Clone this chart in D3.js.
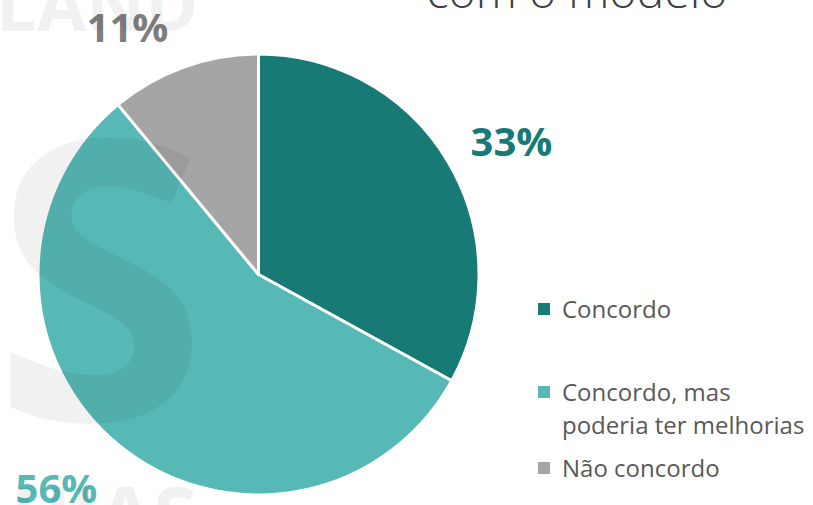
<!DOCTYPE html>
<html>
<head>
<meta charset="utf-8">
<script src="https://cdn.jsdelivr.net/npm/d3@7"></script>
<style>
  html, body { margin: 0; padding: 0; background: #fff; }
  svg { display: block; }
</style>
</head>
<body>
<svg id="chart" width="813" height="505"></svg>
<script>
// ---- data ----
const categories = ["Concordo", "Concordo, mas poderia ter melhorias", "Não concordo"];
const legendLines = [["Concordo"], ["Concordo, mas", "poderia ter melhorias"], ["Não concordo"]];
const values = [33, 56, 11];
const labels = ["33%", "56%", "11%"];
const colors = ["#177A74", "#56B9B5", "#A5A5A5"];
const labelColors = ["#177A74", "#56B9B5", "#7F7F7F"];
const titleText = "com o modelo";

// ---- layout ----
const W = 813, H = 505;
const cx = 258.5, cy = 274.5, R = 220.5;
const labelNudge = [{r: 286, da: 2.8}, {r: 294, da: 3.8}, {r: 280, da: -8.1}];

const svg = d3.select("#chart");

const pie = d3.pie().sort(null).value(d => d).startAngle(0).endAngle(2 * Math.PI);
const arcs = pie(values);
const arc = d3.arc().innerRadius(0).outerRadius(R);

const g = svg.append("g").attr("transform", `translate(${cx},${cy})`);
g.selectAll("path.slice")
  .data(arcs)
  .join("path")
  .attr("class", "slice")
  .attr("d", arc)
  .attr("fill", (d, i) => colors[i])
  .attr("stroke", "#fff")
  .attr("stroke-width", 3)
  .attr("stroke-linejoin", "round");

// data labels
g.selectAll("text.lbl")
  .data(arcs)
  .join("text")
  .attr("class", "lbl")
  .each(function(d, i) {
    const a = (d.startAngle + d.endAngle) / 2 + labelNudge[i].da * Math.PI / 180;
    const r = labelNudge[i].r;
    d3.select(this)
      .attr("x", r * Math.sin(a))
      .attr("y", -r * Math.cos(a) + 15);
  })
  .attr("text-anchor", "middle")
  .attr("font-family", "'Open Sans', 'Noto Sans', sans-serif")
  .attr("font-weight", 700)
  .attr("font-size", 40)
  .attr("fill", (d, i) => labelColors[i])
  .text((d, i) => labels[i]);

// title (partially cut at top, as in the reference)
svg.append("text")
  .attr("x", 577)
  .attr("y", 8)
  .attr("text-anchor", "middle")
  .attr("font-family", "'Open Sans', 'Noto Sans', sans-serif")
  .attr("font-weight", 300)
  .attr("font-size", 46.5)
  .attr("fill", "#404040")
  .text(titleText);

// legend
const legendX = 538, textX = 562;
const legendBase = [318, 401, 477];
const lineH = 33;
const lg = svg.append("g");
legendLines.forEach((lines, i) => {
  lg.append("rect")
    .attr("x", legendX)
    .attr("y", legendBase[i] - 15)
    .attr("width", 12)
    .attr("height", 12)
    .attr("fill", colors[i]);
  const t = lg.append("text")
    .attr("font-family", "'Open Sans', 'Noto Sans', sans-serif")
    .attr("font-size", 24)
    .attr("fill", "#595959");
  lines.forEach((ln, j) => {
    t.append("tspan")
      .attr("x", textX)
      .attr("y", legendBase[i] + j * lineH)
      .text(ln);
  });
});

// faint watermark
const wm = svg.append("g")
  .attr("fill", "#000")
  .attr("fill-opacity", 0.055)
  .attr("font-family", "'Open Sans', sans-serif")
  .attr("font-weight", 700)
  .attr("pointer-events", "none");
wm.append("text").attr("x", -4).attr("y", 31).attr("font-size", 72).text("LAND");
wm.append("text").attr("x", 100).attr("y", 420).attr("text-anchor", "middle").attr("font-size", 390).text("S");
wm.append("text").attr("x", 10).attr("y", 545).attr("font-size", 80).text("HIAS");
</script>
</body>
</html>
